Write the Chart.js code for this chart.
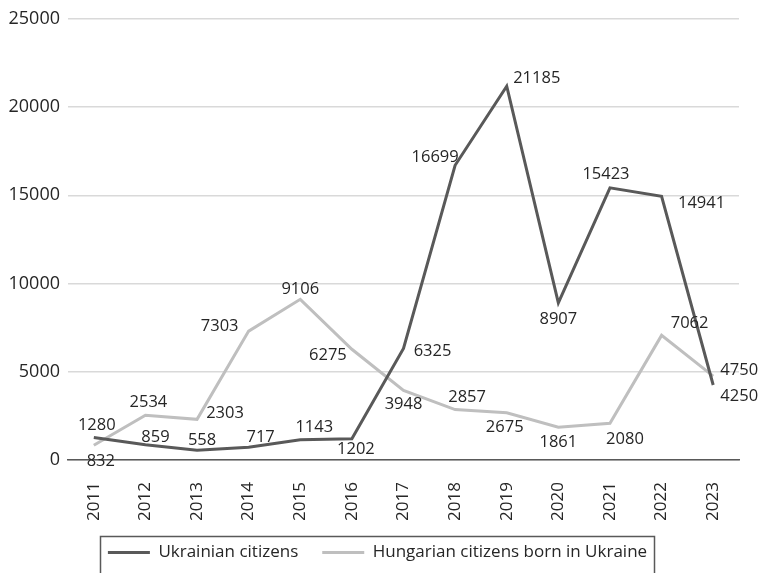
<!DOCTYPE html>
<html lang="en">
<head>
    <meta charset="UTF-8">
    <title>Ukrainian citizens</title>
    <script src="https://cdn.jsdelivr.net/npm/chart.js"></script>
    <style>
        html, body { margin: 0; padding: 0; background: #fff; }
        #wrap { width: 760px; height: 573px; }
    </style>
</head>
<body>
    <div id="wrap"><canvas id="chart" width="760" height="573"></canvas></div>

    <script>
        // data
        const years = ['2011', '2012', '2013', '2014', '2015', '2016', '2017', '2018', '2019', '2020', '2021', '2022', '2023'];
        const ukrainianCitizens = [1280, 859, 558, 717, 1143, 1202, 6325, 16699, 21185, 8907, 15423, 14941, 4250];
        const hungarianBornInUkraine = [832, 2534, 2303, 7303, 9106, 6275, 3948, 2857, 2675, 1861, 2080, 7062, 4750];
        const yTicks = [0, 5000, 10000, 15000, 20000, 25000];

        // label placement (dx, dy from the point), like the hand-moved Excel labels
        const darkLabelShift = [[3,-12],[10,-8],[5,-10],[12,-10],[14,-13],[4,11],[29,3],[-20,-8],[30,-8],[0,16],[-4,-14],[40,7],[26,11]];
        const lightLabelShift = [[7,16],[3,-13],[28,-6],[-29,-5],[0,-10],[-24,6],[0,14],[12,-12],[-2,15],[0,15],[15,16],[28,-12],[26,-6]];

        const fontFam = "'Open Sans', sans-serif";

        const pointLabels = {
            id: 'pointLabels',
            afterDatasetsDraw(chart) {
                const ctx = chart.ctx;
                const shifts = [darkLabelShift, lightLabelShift];
                ctx.save();
                ctx.font = '16.5px ' + fontFam;
                ctx.fillStyle = '#262626';
                ctx.textAlign = 'center';
                ctx.textBaseline = 'middle';
                chart.data.datasets.forEach((ds, di) => {
                    const meta = chart.getDatasetMeta(di);
                    meta.data.forEach((pt, i) => {
                        const s = shifts[di][i];
                        ctx.fillText(String(ds.data[i]), pt.x + s[0], pt.y + s[1]);
                    });
                });
                ctx.restore();
            }
        };

        // legend sits a bit right of the canvas centre, inside a frame
        const legendFrame = {
            id: 'legendFrame',
            afterLayout(chart) {
                chart.legend.left += 16;
            },
            afterDraw(chart) {
                const boxes = chart.legend.legendHitBoxes;
                if (!boxes || !boxes.length) return;
                const first = boxes[0], last = boxes[boxes.length - 1];
                const ctx = chart.ctx;
                const cy = first.top + first.height / 2;
                const w = (last.left + last.width) - first.left + 15;
                ctx.save();
                ctx.strokeStyle = '#595959';
                ctx.lineWidth = 1.5;
                ctx.strokeRect(Math.round(first.left) - 7.5, Math.round(cy) - 16.5, Math.round(w), 40);
                ctx.restore();
            }
        };

        const ctx = document.getElementById('chart').getContext('2d');
        new Chart(ctx, {
            type: 'line',
            data: {
                labels: years,
                datasets: [
                    {
                        label: 'Ukrainian citizens',
                        data: ukrainianCitizens,
                        borderColor: '#595959',
                        backgroundColor: '#595959',
                        borderWidth: 3,
                        pointRadius: 0,
                        tension: 0
                    },
                    {
                        label: 'Hungarian citizens born in Ukraine',
                        data: hungarianBornInUkraine,
                        borderColor: '#bfbfbf',
                        backgroundColor: '#bfbfbf',
                        borderWidth: 3,
                        pointRadius: 0,
                        tension: 0
                    }
                ]
            },
            options: {
                responsive: false,
                animation: false,
                layout: { padding: { top: 18, right: 21, left: 0, bottom: 2 } },
                plugins: {
                    tooltip: { enabled: false },
                    legend: {
                        position: 'bottom',
                        labels: {
                            usePointStyle: true,
                            pointStyle: 'line',
                            pointStyleWidth: 42,
                            padding: 24,
                            color: '#262626',
                            font: { family: fontFam, size: 17 }
                        }
                    }
                },
                scales: {
                    x: {
                        offset: true,
                        grid: { display: false },
                        border: { display: true, color: '#595959', width: 1.5 },
                        ticks: {
                            minRotation: 90,
                            maxRotation: 90,
                            padding: 14,
                            color: '#262626',
                            font: { family: fontFam, size: 17 }
                        },
                        afterFit(scale) { scale.height = 60; }
                    },
                    y: {
                        min: 0,
                        max: 25000,
                        afterBuildTicks(scale) { scale.ticks = yTicks.map(v => ({ value: v })); },
                        grid: { color: '#d9d9d9', lineWidth: 1.5, drawTicks: false },
                        border: { display: false },
                        ticks: {
                            padding: 8,
                            color: '#262626',
                            font: { family: fontFam, size: 18 },
                            callback: (v) => String(v)
                        },
                        afterFit(scale) { scale.width = 68; }
                    }
                }
            },
            plugins: [pointLabels, legendFrame]
        });
    </script>
</body>
</html>
